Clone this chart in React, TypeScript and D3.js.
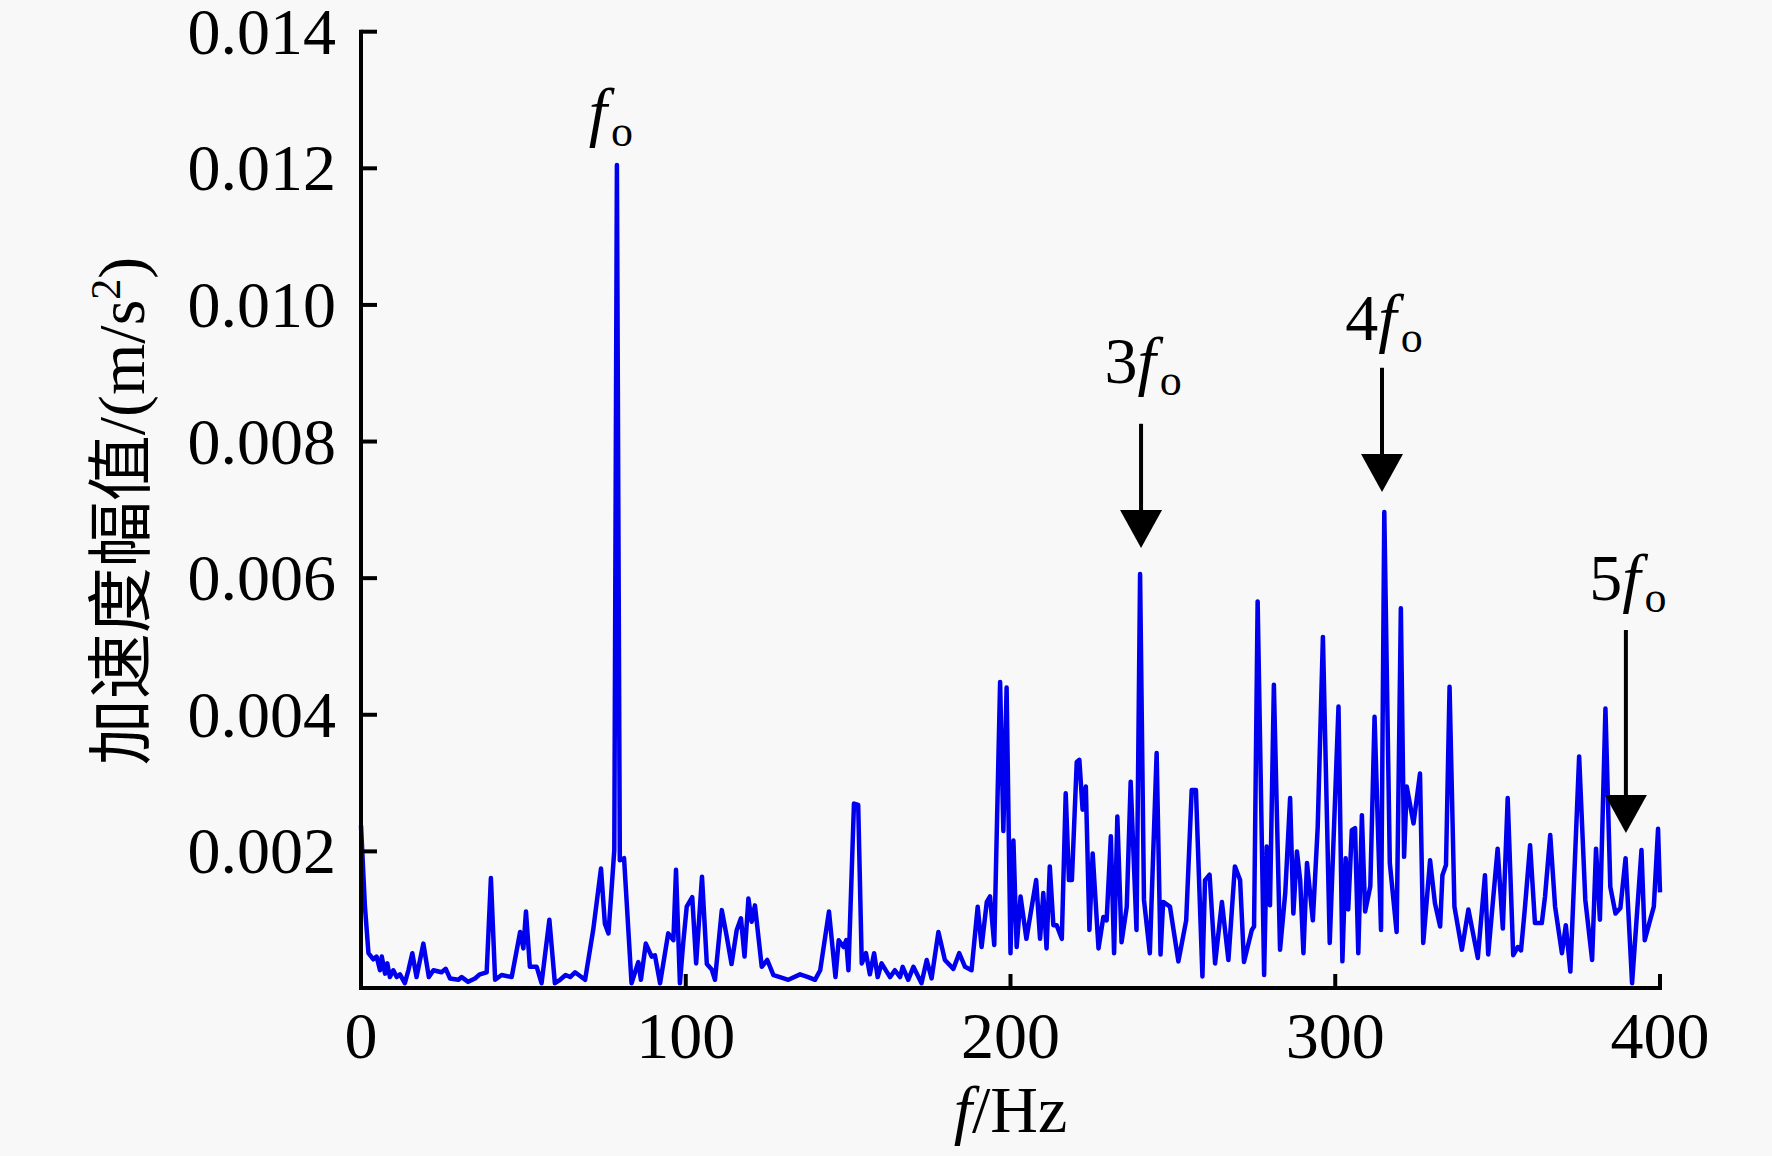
import React, { useEffect, useRef } from 'react';
import * as d3 from 'd3';

// spectrum (Hz, m/s^2)
const freqs = [
  0, 1.2, 2.3, 3.8, 4.8, 5.85, 6.4, 7.4, 8.1, 8.9, 9.95, 11.0, 12.0, 13.5, 14.6, 15.8, 17.1, 19.2, 20.9, 22.3,
  24.8, 26.1, 27.4, 30, 31, 33, 35.1, 36.6, 38.7, 40, 41.3, 43.3, 46.4, 49, 50, 50.8, 52, 54.1, 55.6, 58,
  59.7, 61.3, 63, 64.4, 65.9, 69, 71.5, 73.9, 75.1, 76.2, 78, 78.8, 79.7, 81, 83.3, 85.4, 86.2, 87.7, 89.5, 90.5,
  92.1, 94.6, 96.2, 97, 98.2, 99.2, 100.3, 102, 103.2, 105, 106.5, 108, 109, 111.1, 112.6, 114.1, 115.7, 117, 118.1, 119.3,
  120.3, 121.3, 123.4, 125.1, 127, 129, 131.6, 135.2, 137.7, 139.8, 141.4, 144.1, 146.1, 147.1, 148.6, 149.4, 150.1, 151.8, 153.1, 154.2,
  155.5, 156.7, 158, 159.1, 160.3, 162.9, 164.4, 166, 166.8, 168.5, 170.1, 172.6, 174.2, 175.7, 177.8, 179.8, 182.4, 184.2, 186, 188,
  189.9, 191.1, 192.7, 193.7, 195, 196.8, 197.8, 198.8, 200, 200.9, 201.9, 203.1, 204.9, 207.9, 209.1, 210.1, 211.1, 212.1, 213.2, 214.2,
  215.8, 217, 218, 218.9, 220.4, 221.2, 222.2, 223.2, 224.3, 225.3, 227.1, 228.6, 229.6, 230.9, 231.9, 232.9, 234.2, 235.8, 237, 238.8,
  239.9, 241.1, 242.9, 245, 246.2, 247, 249.1, 251.7, 254.1, 255.8, 257.1, 259.1, 259.9, 261.3, 263, 265.1, 267.1, 269.1, 270.7, 271.9,
  274.3, 275, 276.1, 278.1, 278.9, 279.9, 281.1, 283, 284.6, 286.1, 287.1, 288.2, 289.2, 290.2, 291.3, 293.1, 294.6, 296.2, 298.3, 301,
  302.2, 303.2, 304, 305.1, 306.1, 307.1, 308.2, 309.2, 310.8, 312.1, 314.1, 315.1, 316.8, 318.9, 320.2, 321.2, 322, 324.1, 326.1, 327.1,
  329.2, 330.7, 332.3, 333, 334.1, 335.2, 336.7, 339, 341, 343.9, 346.1, 347.1, 350, 351.6, 353.1, 354.8, 356.2, 357.2, 358.4, 360,
  361.5, 363.6, 364.6, 366.2, 367.7, 369.8, 371, 372.4, 375.1, 377, 379.1, 380.3, 381.5, 383.2, 384.7, 386.3, 387.8, 389.4, 391.4, 394.3,
  395.3, 396.7, 398.1, 399.4, 400,
];

const amps = [
  0.00238, 0.0012, 0.00051, 0.00042, 0.00046, 0.00026, 0.00046, 0.00021, 0.00036, 0.00016, 0.00026, 0.00016, 0.0002, 0.00007, 0.00026, 0.00051, 0.00016, 0.00065, 0.00016, 0.00026,
  0.00023, 0.00028, 0.00014, 0.00012, 0.00016, 0.00009, 0.00014, 0.0002, 0.00023, 0.00161, 0.00012, 0.00019, 0.00016, 0.00082, 0.00058, 0.00112, 0.00031, 0.00031, 0.00007, 0.001,
  0.00007, 0.00012, 0.00019, 0.00016, 0.00023, 0.00012, 0.00085, 0.00175, 0.00094, 0.0008, 0.00202, 0.01205, 0.00187, 0.0019, 0.00007, 0.00038, 0.00012, 0.00065, 0.00046, 0.00048,
  0.00007, 0.0008, 0.0007, 0.00173, 0.00007, 0.00065, 0.00119, 0.00133, 0.00036, 0.00163, 0.00035, 0.00027, 0.00012, 0.00114, 0.00076, 0.00035, 0.00085, 0.00102, 0.00046, 0.00131,
  0.00097, 0.00121, 0.00031, 0.00041, 0.00019, 0.00016, 0.00012, 0.0002, 0.00016, 0.00012, 0.00026, 0.00112, 0.00016, 0.0007, 0.0006, 0.0007, 0.00026, 0.0027, 0.00268, 0.00036,
  0.00051, 0.0002, 0.00051, 0.00016, 0.00036, 0.00016, 0.00026, 0.00016, 0.00031, 0.00012, 0.00031, 0.00007, 0.00041, 0.00014, 0.00082, 0.00041, 0.00028, 0.00051, 0.00031, 0.00026,
  0.00119, 0.0006, 0.00126, 0.00134, 0.00063, 0.00448, 0.0023, 0.0044, 0.00051, 0.00216, 0.0006, 0.00134, 0.00072, 0.00158, 0.00072, 0.00139, 0.00058, 0.00178, 0.00092, 0.00092,
  0.00072, 0.00285, 0.00158, 0.00158, 0.00331, 0.00334, 0.00261, 0.00295, 0.00085, 0.00197, 0.00058, 0.00104, 0.00099, 0.00222, 0.00051, 0.00251, 0.00067, 0.00119, 0.00302, 0.00085,
  0.00606, 0.00129, 0.00051, 0.00344, 0.00049, 0.00126, 0.00119, 0.00039, 0.00099, 0.0029, 0.0029, 0.00017, 0.00158, 0.00166, 0.00036, 0.00126, 0.00041, 0.00178, 0.00158, 0.00038,
  0.00085, 0.0009, 0.00566, 0.00019, 0.00207, 0.00121, 0.00444, 0.00056, 0.00139, 0.00278, 0.00109, 0.002, 0.00158, 0.00051, 0.00183, 0.00099, 0.00236, 0.00514, 0.00066, 0.00412,
  0.00039, 0.0019, 0.00115, 0.00231, 0.00234, 0.00051, 0.00253, 0.00112, 0.00149, 0.00397, 0.00085, 0.00697, 0.00183, 0.00082, 0.00556, 0.00192, 0.00295, 0.00241, 0.00314, 0.00066,
  0.00187, 0.00124, 0.0009, 0.00165, 0.0018, 0.00441, 0.00119, 0.00056, 0.00115, 0.00044, 0.00165, 0.00049, 0.00204, 0.00087, 0.00278, 0.00048, 0.0006, 0.00055, 0.00117, 0.00209,
  0.00095, 0.00095, 0.00134, 0.00224, 0.00119, 0.00051, 0.00092, 0.00024, 0.00339, 0.00129, 0.00041, 0.00204, 0.001, 0.00409, 0.00148, 0.00109, 0.00117, 0.0019, 0.00007, 0.00202,
  0.0007, 0.00095, 0.00119, 0.00233, 0.0014,
];

const xTicks = [0, 100, 200, 300, 400];
const yTicks = [0.002, 0.004, 0.006, 0.008, 0.01, 0.012, 0.014];
const yTickLabels = ['0.002', '0.004', '0.006', '0.008', '0.010', '0.012', '0.014'];

// harmonic annotations: multiplier text, frequency, label height, arrow tail / tip (data units)
const harmonicPrefix = ['', '3', '4', '5'];
const harmonicFreq = [78.8, 240.2, 314.4, 389.5];
const harmonicLabelY = [0.0125, 0.00886, 0.00949, 0.00568];
const arrowTail = [null, 0.00826, 0.00908, 0.00524];
const arrowTip = [null, 0.00644, 0.00726, 0.00227];

const SERIF = '"Liberation Serif", "Times New Roman", "Noto Sans CJK SC", serif';

const App: React.FC = () => {
  const ref = useRef<SVGSVGElement | null>(null);

  useEffect(() => {
    const width = 1772, height = 1156;
    const svg = d3.select(ref.current)
      .attr('width', width)
      .attr('height', height)
      .style('background-color', '#f8f8f8');

    svg.selectAll('*').remove();

    const x = d3.scaleLinear().domain([0, 400]).range([361, 1660]);
    const y = d3.scaleLinear().domain([0, 0.014]).range([988, 31.7]);

    // spectrum line
    const line = d3.line<number>()
      .x((_, i) => x(freqs[i]))
      .y((d) => y(d));

    svg.append('path')
      .datum(amps)
      .attr('d', line)
      .attr('fill', 'none')
      .attr('stroke', '#0000ee')
      .attr('stroke-width', 4.5)
      .attr('stroke-linejoin', 'round');

    // axes
    const axes = svg.append('g').attr('stroke', '#000').attr('stroke-width', 4);
    axes.append('line')
      .attr('x1', x(0)).attr('x2', x(0))
      .attr('y1', y(0.014) - 2).attr('y2', y(0) + 2);
    axes.append('line')
      .attr('x1', x(0) - 2).attr('x2', x(400) + 2)
      .attr('y1', y(0)).attr('y2', y(0));

    yTicks.forEach((t, i) => {
      axes.append('line')
        .attr('x1', x(0)).attr('x2', x(0) + 16)
        .attr('y1', y(t)).attr('y2', y(t));
      svg.append('text')
        .attr('x', 336)
        .attr('y', y(t) + 22)
        .attr('text-anchor', 'end')
        .style('font-family', SERIF)
        .style('font-size', '66px')
        .text(yTickLabels[i]);
    });

    xTicks.forEach((t) => {
      if (t > 0) {
        axes.append('line')
          .attr('x1', x(t)).attr('x2', x(t))
          .attr('y1', y(0)).attr('y2', y(0) - 14);
      }
      svg.append('text')
        .attr('x', x(t))
        .attr('y', 1058)
        .attr('text-anchor', 'middle')
        .style('font-family', SERIF)
        .style('font-size', '66px')
        .text(t);
    });

    // axis titles
    const xt = svg.append('text')
      .attr('x', (x(0) + x(400)) / 2)
      .attr('y', 1132)
      .attr('text-anchor', 'middle')
      .style('font-family', SERIF)
      .style('font-size', '66px');
    xt.append('tspan').style('font-style', 'italic').text('f');
    xt.append('tspan').text('/Hz');

    const yt = svg.append('text')
      .attr('transform', 'translate(144, 511) rotate(-90)')
      .attr('text-anchor', 'middle')
      .style('font-family', SERIF)
      .style('font-size', '66px');
    yt.append('tspan').text('加速度幅值/(m/s');
    yt.append('tspan').attr('dy', -24).style('font-size', '42px').text('2');
    yt.append('tspan').attr('dy', 24).text(')');

    // harmonic labels and arrows
    harmonicFreq.forEach((f, i) => {
      const cx = x(f);
      const label = svg.append('text')
        .attr('x', cx + (harmonicPrefix[i] ? 2 : -6))
        .attr('y', y(harmonicLabelY[i]))
        .attr('text-anchor', 'middle')
        .style('font-family', SERIF)
        .style('font-size', '66px');
      if (harmonicPrefix[i]) label.append('tspan').text(harmonicPrefix[i]);
      label.append('tspan').style('font-style', 'italic').text('f');
      label.append('tspan').attr('dy', 12).attr('dx', 4).style('font-size', '44px').text('o');

      const tail = arrowTail[i], tip = arrowTip[i];
      if (tail !== null && tip !== null) {
        const headLen = 38, headW = 42;
        svg.append('line')
          .attr('x1', cx).attr('x2', cx)
          .attr('y1', y(tail)).attr('y2', y(tip) - headLen + 2)
          .attr('stroke', '#000')
          .attr('stroke-width', 4);
        svg.append('path')
          .attr('d', `M${cx - headW / 2},${y(tip) - headLen} L${cx + headW / 2},${y(tip) - headLen} L${cx},${y(tip)} Z`)
          .attr('fill', '#000');
      }
    });
  }, []);

  return (
    <div style={{ position: 'absolute', left: 0, top: 0 }}>
      <svg ref={ref}></svg>
    </div>
  );
};

export default App;
